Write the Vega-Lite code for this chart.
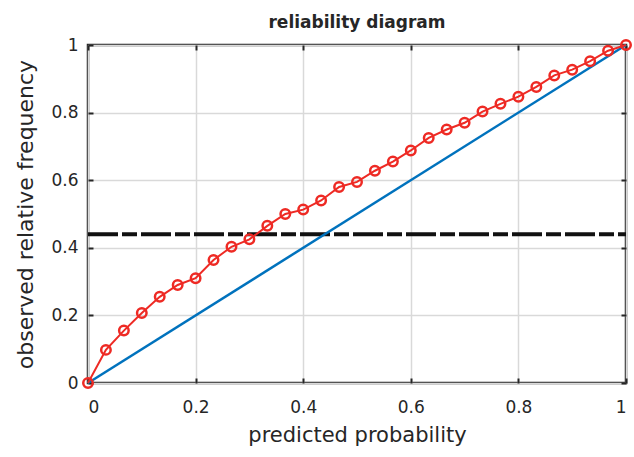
{
  "$schema": "https://vega.github.io/schema/vega-lite/v6.json",
  "width": 538,
  "height": 338,
  "autosize": {"type": "none"},
  "padding": {"left": 88, "top": 45, "right": 8, "bottom": 74},
  "background": "white",
  "title": {"text": "reliability diagram", "fontSize": 17, "font": "DejaVu Sans", "fontWeight": "bold", "color": "#262626", "offset": 3},
  "config": {
    "view": {"stroke": "#262626", "strokeWidth": 2.5},
    "axis": {
      "labelFont": "DejaVu Sans", "labelFontSize": 17, "labelColor": "#262626",
      "titleFont": "DejaVu Sans", "titleColor": "#262626", "titleFontWeight": "normal",
      "gridColor": "#d9d9d9", "gridWidth": 1.5, "gridOpacity": 1,
      "domain": false, "tickColor": "#262626", "tickWidth": 2, "tickSize": -5
    }
  },
  "resolve": {"axis": {"x": "independent", "y": "independent"}},
  "datasets": {
    "rel": [
      {"p": 0.0, "f": 0.0}, {"p": 0.0333, "f": 0.098}, {"p": 0.0667, "f": 0.155}, {"p": 0.1, "f": 0.207},
      {"p": 0.1333, "f": 0.255}, {"p": 0.1667, "f": 0.29}, {"p": 0.2, "f": 0.31}, {"p": 0.2333, "f": 0.364},
      {"p": 0.2667, "f": 0.403}, {"p": 0.3, "f": 0.425}, {"p": 0.3333, "f": 0.465}, {"p": 0.3667, "f": 0.5},
      {"p": 0.4, "f": 0.513}, {"p": 0.4333, "f": 0.54}, {"p": 0.4667, "f": 0.58}, {"p": 0.5, "f": 0.595},
      {"p": 0.5333, "f": 0.628}, {"p": 0.5667, "f": 0.655}, {"p": 0.6, "f": 0.688}, {"p": 0.6333, "f": 0.725},
      {"p": 0.6667, "f": 0.75}, {"p": 0.7, "f": 0.77}, {"p": 0.7333, "f": 0.803}, {"p": 0.7667, "f": 0.826},
      {"p": 0.8, "f": 0.847}, {"p": 0.8333, "f": 0.876}, {"p": 0.8667, "f": 0.91}, {"p": 0.9, "f": 0.927},
      {"p": 0.9333, "f": 0.952}, {"p": 0.9667, "f": 0.983}, {"p": 1.0, "f": 1.0}
    ],
    "diag": [{"p": 0, "f": 0}, {"p": 1, "f": 1}],
    "clim": [{"p": 0, "f": 0.44}, {"p": 1, "f": 0.44}]
  },
  "layer": [
    {
      "data": {"name": "clim"},
      "mark": {"type": "line", "color": "#111111", "strokeWidth": 4, "strokeDash": [30, 4, 15, 4], "clip": true},
      "encoding": {
        "x": {"field": "p", "type": "quantitative", "scale": {"domain": [0, 1], "nice": false},
          "axis": {"values": [0, 0.2, 0.4, 0.6, 0.8, 1], "format": ".1~f", "title": "predicted probability", "titleFontSize": 21, "labelPadding": 21, "titlePadding": 9}},
        "y": {"field": "f", "type": "quantitative", "scale": {"domain": [0, 1], "nice": false},
          "axis": {"values": [0, 0.2, 0.4, 0.6, 0.8, 1], "format": ".1~f", "title": "observed relative frequency", "titleFontSize": 22, "labelPadding": 15, "titlePadding": 13}}
      }
    },
    {
      "data": {"name": "diag"},
      "mark": {"type": "line", "color": "#0072BD", "strokeWidth": 2.5},
      "encoding": {
        "x": {"field": "p", "type": "quantitative", "scale": {"domain": [0, 1], "nice": false},
          "axis": {"orient": "top", "values": [0, 0.2, 0.4, 0.6, 0.8, 1], "labels": false, "title": null, "grid": false}},
        "y": {"field": "f", "type": "quantitative", "scale": {"domain": [0, 1], "nice": false},
          "axis": {"orient": "right", "values": [0, 0.2, 0.4, 0.6, 0.8, 1], "labels": false, "title": null, "grid": false}}
      }
    },
    {
      "data": {"name": "rel"},
      "mark": {"type": "line", "color": "#EE2A24", "strokeWidth": 2, "point": {"shape": "circle", "size": 90, "filled": false, "stroke": "#EE2A24", "strokeWidth": 2.5}},
      "encoding": {
        "x": {"field": "p", "type": "quantitative", "scale": {"domain": [0, 1], "nice": false}, "axis": null},
        "y": {"field": "f", "type": "quantitative", "scale": {"domain": [0, 1], "nice": false}, "axis": null}
      }
    }
  ]
}
